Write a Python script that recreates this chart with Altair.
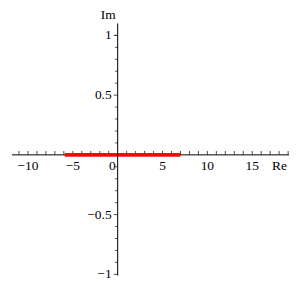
import altair as alt
import pandas as pd

# Axis ranges
x_min, x_max = -11.78, 19.1
y_min, y_max = -1.01, 1.1

# Red segment on the real axis
seg_x = [-5.9, 7.0]
seg_y = [0, 0]

# Tick labels
x_label_vals = [-10, -5, 5, 10, 15]
x_label_txt = ["\u221210", "\u22125", "5", "10", "15"]
y_label_vals = [-1, -0.5, 0.5, 1]
y_label_txt = ["\u22121", "\u22120.5", "0.5", "1"]

# Ticks
x_ticks = [-11, -10, -9, -8, -7, -6, -5, -4, -3, -2, -1, 1, 2, 3, 4, 5, 6, 7, 8, 9,
           10, 11, 12, 13, 14, 15, 16, 17, 18, 19]
y_major = [-1, -0.5, 0.5, 1]
y_minor = [-0.9, -0.8, -0.7, -0.6, -0.4, -0.3, -0.2, -0.1,
           0.1, 0.2, 0.3, 0.4, 0.6, 0.7, 0.8, 0.9, 1.0]

FONT = "Liberation Serif"
FS = 13.5

xs = alt.Scale(domain=[x_min, x_max], nice=False, zero=False)
ys = alt.Scale(domain=[y_min, y_max], nice=False, zero=False)


def X(f="x"):
    return alt.X(f"{f}:Q", scale=xs, axis=None)


def Y(f="y"):
    return alt.Y(f"{f}:Q", scale=ys, axis=None)


xaxis = alt.Chart(pd.DataFrame({"x": [x_min], "x2": [x_max], "y": [0]})).mark_rule(
    color="black", strokeWidth=1).encode(x=X(), x2="x2:Q", y=Y())

yaxis = alt.Chart(pd.DataFrame({"x": [0], "y": [y_min], "y2": [y_max]})).mark_rule(
    color="black", strokeWidth=1).encode(x=X(), y=Y(), y2="y2:Q")

xt = alt.Chart(pd.DataFrame({"x": x_ticks, "y": [0] * len(x_ticks)})).mark_tick(
    orient="vertical", size=4, thickness=1, color="black", yOffset=-2).encode(x=X(), y=Y())

ytM = alt.Chart(pd.DataFrame({"x": [0] * len(y_major), "y": y_major})).mark_tick(
    orient="horizontal", size=4, thickness=1, color="black", xOffset=-2).encode(x=X(), y=Y())

ytm = alt.Chart(pd.DataFrame({"x": [0] * len(y_minor), "y": y_minor})).mark_tick(
    orient="horizontal", size=2.5, thickness=1, color="black", xOffset=-1.25).encode(x=X(), y=Y())

seg = alt.Chart(pd.DataFrame({"x": seg_x, "y": seg_y})).mark_line(
    color="#ff0000", strokeWidth=4, strokeCap="butt", opacity=0.95).encode(x=X(), y=Y())

xlab = alt.Chart(pd.DataFrame({"x": x_label_vals, "y": [0] * len(x_label_vals), "t": x_label_txt})).mark_text(
    font=FONT, fontSize=FS, align="center", baseline="middle", dy=11, color="black").encode(
    x=X(), y=Y(), text="t:N")

zlab = alt.Chart(pd.DataFrame({"x": [0], "y": [0], "t": ["0"]})).mark_text(
    font=FONT, fontSize=FS, align="right", baseline="middle", dx=-2, dy=11, color="black").encode(
    x=X(), y=Y(), text="t:N")

ylab = alt.Chart(pd.DataFrame({"x": [0] * len(y_label_vals), "y": y_label_vals, "t": y_label_txt})).mark_text(
    font=FONT, fontSize=FS, align="right", baseline="middle", dx=-6, color="black").encode(
    x=X(), y=Y(), text="t:N")

re_lab = alt.Chart(pd.DataFrame({"x": [x_max], "y": [0], "t": ["Re"]})).mark_text(
    font=FONT, fontSize=FS, align="right", baseline="middle", dx=-2, dy=11, color="black").encode(
    x=X(), y=Y(), text="t:N")

im_lab = alt.Chart(pd.DataFrame({"x": [0], "y": [y_max], "t": ["Im"]})).mark_text(
    font=FONT, fontSize=FS, align="right", baseline="middle", dx=-2, dy=-8, color="black").encode(
    x=X(), y=Y(), text="t:N")

chart = alt.layer(xaxis, xt, seg, yaxis, ytM, ytm, xlab, zlab, ylab, re_lab, im_lab).properties(
    width=278, height=253,
    background="white",
    autosize=alt.AutoSizeParams(type="none"),
    padding={"left": 4, "top": 15, "right": 0, "bottom": 12},
).configure_view(stroke=None, strokeWidth=0)

chart.save("out.html", embed_options={"renderer": "svg", "actions": False})
